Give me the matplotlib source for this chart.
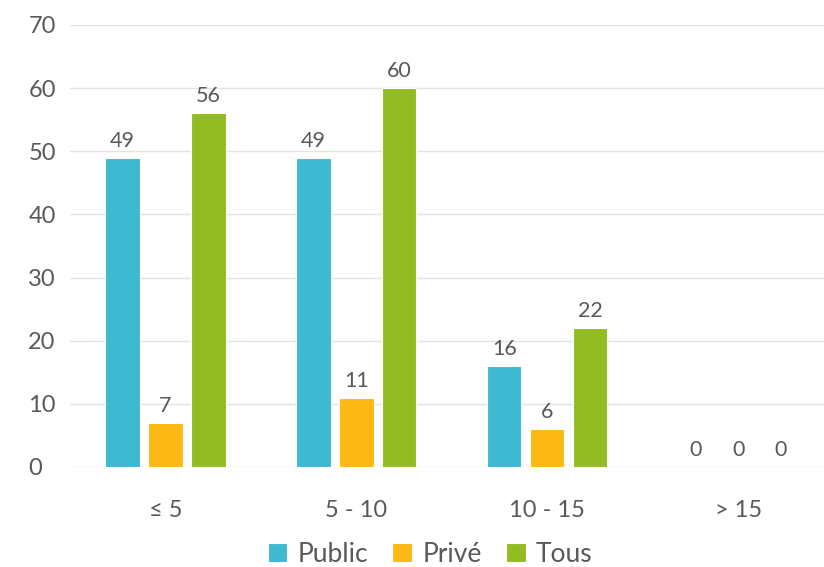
import matplotlib
matplotlib.use("Agg")
import matplotlib.pyplot as plt
import numpy as np

categories = ["≤ 5", "5 - 10", "10 - 15", "> 15"]
series_names = ["Public", "Privé", "Tous"]
public = [49, 49, 16, 0]
prive = [7, 11, 6, 0]
tous = [56, 60, 22, 0]
yticks = [0, 10, 20, 30, 40, 50, 60, 70]

colors = ["#3FB9D1", "#FDB813", "#93BC23"]
text_color = "#595959"
plt.rcParams["font.family"] = ["Lato", "DejaVu Sans"]

fig = plt.figure(figsize=(8.24, 5.67), dpi=100)
ax = fig.add_axes([0.085, 0.1764, 0.915, 0.7796])

x = np.arange(len(categories))
offset = 0.225
width = 0.18
for i, (vals, name) in enumerate(zip([public, prive, tous], series_names)):
    pos = x + (i - 1) * offset
    ax.bar(pos, vals, width=width, color=colors[i], edgecolor="white",
           linewidth=0.8, label=name, zorder=3)
    for p, v in zip(pos, vals):
        ax.text(p, v + 1.1, str(v), ha="center", va="bottom",
                fontsize=15.5, color=text_color)

ax.set_ylim(0, 70)
ax.set_xlim(-0.5, 3.45)
ax.set_yticks(yticks)
ax.set_yticklabels([str(t) for t in yticks], fontsize=17, color=text_color)
ax.set_xticks(x)
ax.set_xticklabels(categories, fontsize=17, color=text_color)
ax.tick_params(axis="both", length=0)
ax.tick_params(axis="x", pad=24)
for lbl in ax.get_yticklabels():
    lbl.set_horizontalalignment("left")
ax.yaxis.set_tick_params(pad=30)
ax.grid(axis="y", color="#E3E3E3", linewidth=1, zorder=0)
for s in ax.spines.values():
    s.set_visible(False)

fig.legend(loc="center", bbox_to_anchor=(0.522, 0.022), ncol=3, frameon=False,
           fontsize=19, handlelength=0.75, handleheight=0.75,
           handletextpad=0.4, columnspacing=0.9, labelcolor=text_color)

fig.savefig("out.png", dpi=100)
